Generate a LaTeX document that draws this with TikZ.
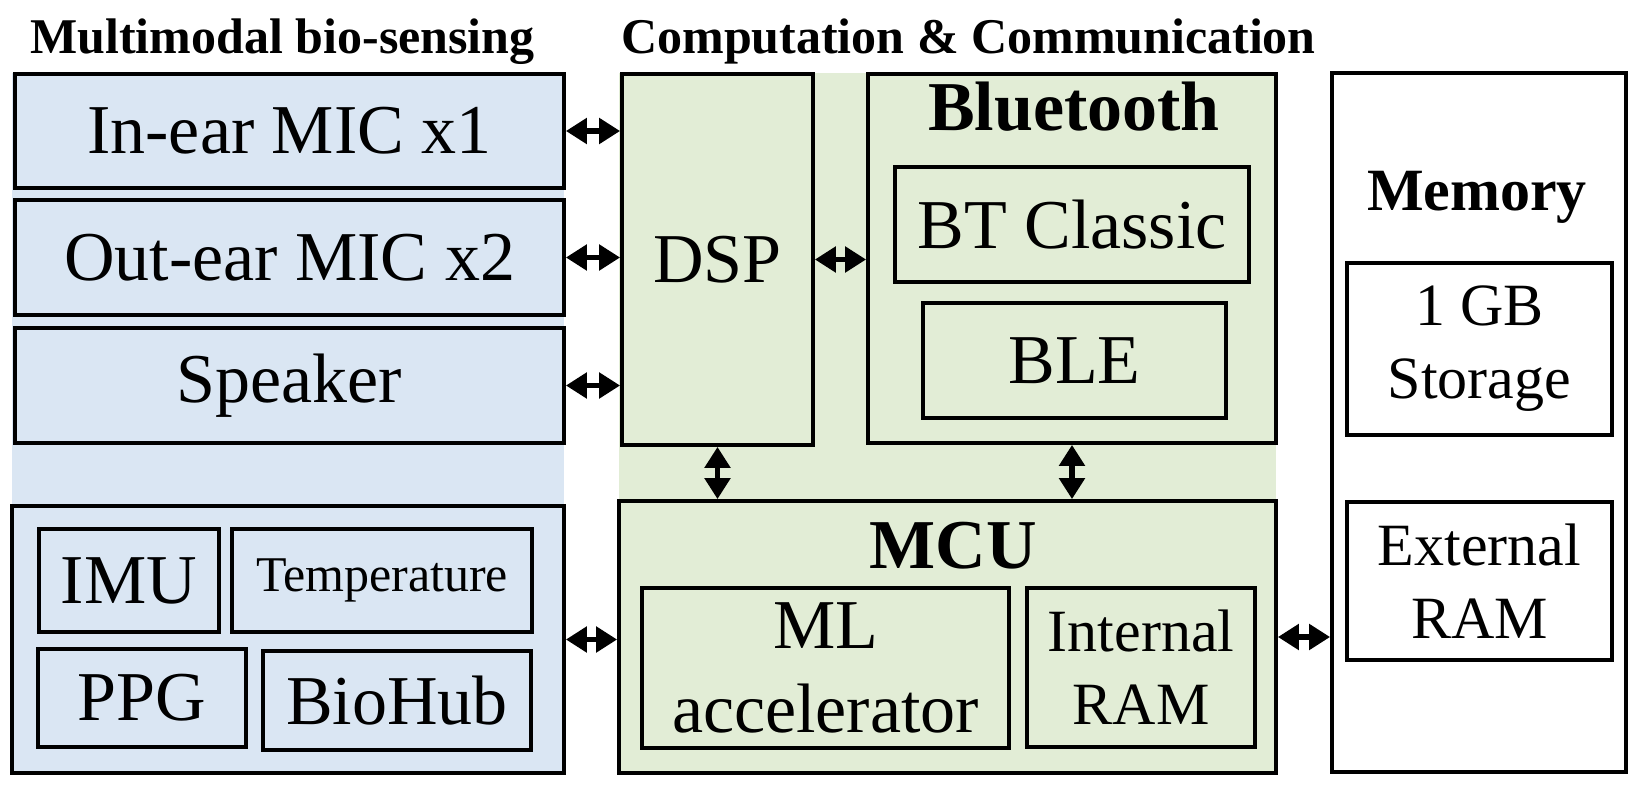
\documentclass[tikz,border=0pt]{standalone}
\usepackage{fontspec}
\setmainfont{Liberation Serif}
\usetikzlibrary{arrows.meta,calc}
\definecolor{bgblue}{HTML}{DAE6F3}
\definecolor{bggreen}{HTML}{E2EDD6}
\begin{document}
\begin{tikzpicture}[x=1pt,y=-1pt,
  box/.style={draw=black, line width=3.8pt, inner sep=0pt, align=center},
  bgrect/.style={draw=none, inner sep=0pt},
  big/.style={font=\fontsize{70pt}{84pt}\selectfont},
  mid/.style={font=\fontsize{60pt}{73pt}\selectfont},
  small/.style={font=\fontsize{50pt}{60pt}\selectfont},
  btitle/.style={font=\fontsize{70pt}{84pt}\selectfont\bfseries, inner sep=0pt, anchor=base},
  mtitle/.style={font=\fontsize{60pt}{72pt}\selectfont\bfseries, inner sep=0pt, anchor=base},
  htitle/.style={font=\fontsize{50pt}{60pt}\selectfont\bfseries, inner sep=0pt, anchor=base},
  biarrow/.style={line width=5.5pt, {Triangle[length=21pt,width=25pt]}-{Triangle[length=21pt,width=25pt]}}
]
\useasboundingbox (0,0) rectangle (1646,792);

% backgrounds
\node[bgrect, fill=bgblue, minimum width=552pt, minimum height=700pt] (bgb) at (288,423) {};
\node[bgrect, fill=bggreen, minimum width=657pt, minimum height=700pt] (bgg) at (947.5,423) {};

% headings
\node[htitle] (h1) at (282.5,53) {Multimodal bio-sensing};
\node[htitle] (h2) at (968.5,53) {Computation \& Communication};

% sensing column
\node[box, big, fill=bgblue, minimum width=549pt, minimum height=114pt] (inear) at (289.5,131) {In-ear MIC x1};
\node[box, big, fill=bgblue, minimum width=549pt, minimum height=115pt] (outear) at (289.5,257.5) {Out-ear MIC x2};
\node[box, big, fill=bgblue, minimum width=549pt, minimum height=115pt] (speaker) at (289.5,385.5) {Speaker};
\node[box, fill=bgblue, minimum width=552pt, minimum height=267pt] (sensors) at (288,639.5) {};
\node[box, big, fill=bgblue, minimum width=180pt, minimum height=103pt] (imu) at (129,580.5) {IMU};
\node[box, small, fill=bgblue, minimum width=300pt, minimum height=103pt] (temp) at (382,580.5) {Temperature};
\node[box, big, fill=bgblue, minimum width=208pt, minimum height=98pt] (ppg) at (142,698) {PPG};
\node[box, big, fill=bgblue, minimum width=268pt, minimum height=99pt] (biohub) at (397,700.5) {BioHub};

% computation column
\node[box, big, fill=bggreen, minimum width=191pt, minimum height=371pt] (dsp) at (717.5,259.5) {DSP};
\node[box, fill=bggreen, minimum width=408pt, minimum height=369pt] (bt) at (1072,258.5) {};
\node[btitle] (bttitle) at (1074,130) {Bluetooth};
\node[box, big, fill=bggreen, minimum width=354pt, minimum height=115pt] (btc) at (1072,224.5) {BT Classic};
\node[box, big, fill=bggreen, minimum width=303pt, minimum height=115pt] (ble) at (1074.5,360.5) {BLE};
\node[box, fill=bggreen, minimum width=657pt, minimum height=272pt] (mcu) at (947.5,637) {};
\node[btitle] (mcutitle) at (953,568) {MCU};
\node[box, big, fill=bggreen, minimum width=367pt, minimum height=160pt] (ml) at (825.5,668) {ML\\accelerator};
\node[box, mid, fill=bggreen, minimum width=228pt, minimum height=159pt] (iram) at (1141,667.5) {Internal\\RAM};

% memory column
\node[box, fill=white, minimum width=294pt, minimum height=699pt] (mem) at (1479,422.5) {};
\node[mtitle] (memtitle) at (1477,210) {Memory};
\node[box, mid, fill=white, minimum width=265pt, minimum height=172pt] (storage) at (1479.5,349) {1 GB\\Storage};
\node[box, mid, fill=white, minimum width=265pt, minimum height=158pt] (eram) at (1479.5,581) {External\\RAM};

% connectors
\draw[biarrow] (inear.east) -- (inear.east -| dsp.west);
\draw[biarrow] (outear.east) -- (outear.east -| dsp.west);
\draw[biarrow] (speaker.east) -- (speaker.east -| dsp.west);
\draw[biarrow] (dsp.east) -- (dsp.east -| bt.west);
\draw[biarrow] (dsp.south) -- (dsp.south |- mcu.north);
\draw[biarrow] (bt.south) -- (bt.south |- mcu.north);
\draw[biarrow] (sensors.east) -- (sensors.east -| mcu.west);
\draw[biarrow] (mcu.east) -- (mcu.east -| mem.west);
\end{tikzpicture}
\end{document}
